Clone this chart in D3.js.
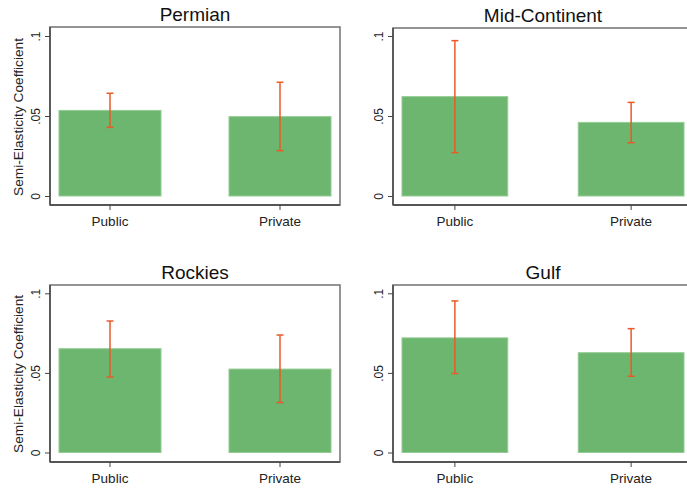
<!DOCTYPE html>
<html>
<head>
<meta charset="utf-8">
<script src="https://cdn.jsdelivr.net/npm/d3@7"></script>
<style>
  html, body { margin: 0; padding: 0; background: #fff; }
  svg { display: block; font-family: "Liberation Sans", Arial, sans-serif; }
</style>
</head>
<body>
<div id="chart"></div>
<script>
// values
const regions = ['Permian', 'Mid-Continent', 'Rockies', 'Gulf'];
const owners = ['Public', 'Private'];
const coef = [
  [0.0535, 0.0496],
  [0.0621, 0.0460],
  [0.0652, 0.0524],
  [0.0720, 0.0627]
];
const ciLow = [
  [0.0429, 0.0283],
  [0.0271, 0.0333],
  [0.0474, 0.0314],
  [0.0496, 0.0479]
];
const ciHigh = [
  [0.0642, 0.0711],
  [0.0971, 0.0585],
  [0.0826, 0.0738],
  [0.0952, 0.0778]
];
const yTicks = [0, 0.05, 0.1];
const yTickLabels = ['0', '.05', '.1'];
const yTitle = 'Semi-Elasticity Coefficient';

const W = 687, H = 491;
const BAR = '#6db66f', BAR_EDGE = '#93cc93', ERR = '#ea5a28';

const svg = d3.select('#chart').append('svg')
  .attr('width', W).attr('height', H);

// panel frames: left, right, top, bottom, y of zero, y of .1
const panels = [
  { l: 50, r: 340, t: 27, b: 205, y0: 196, y1: 36, ytitle: true },
  { l: 393, r: 693, t: 28, b: 205, y0: 196, y1: 36, ytitle: false },
  { l: 50, r: 340, t: 285, b: 462, y0: 452.5, y1: 293.3, ytitle: true },
  { l: 393, r: 693, t: 285, b: 462, y0: 452.5, y1: 293.3, ytitle: false }
];

panels.forEach((p, i) => {
  const g = svg.append('g');
  const x = d3.scaleBand().domain(owners).range([p.l + 9, p.r - 9]).paddingInner(0.4).paddingOuter(0);
  const y = d3.scaleLinear().domain([0, 0.1]).range([p.y0, p.y1]);

  // title
  g.append('text')
    .attr('x', (p.l + p.r) / 2).attr('y', p.t - 6.5)
    .attr('text-anchor', 'middle')
    .style('font-size', '19px').attr('fill', '#111')
    .text(regions[i]);

  // frame
  g.append('rect')
    .attr('x', p.l).attr('y', p.t)
    .attr('width', p.r - p.l).attr('height', p.b - p.t)
    .attr('fill', 'none').attr('stroke', '#7a7a7a').attr('stroke-width', 1.6);

  const rows = owners.map((o, j) => ({ o, v: coef[i][j], lo: ciLow[i][j], hi: ciHigh[i][j] }));

  g.selectAll('rect.bar').data(rows).enter().append('rect')
    .attr('class', 'bar')
    .attr('x', d => x(d.o))
    .attr('width', x.bandwidth())
    .attr('y', d => y(d.v))
    .attr('height', d => y(0) - y(d.v))
    .attr('fill', BAR).attr('stroke', BAR_EDGE).attr('stroke-width', 1);

  const cx = d => x(d.o) + x.bandwidth() / 2;
  const eb = g.selectAll('g.err').data(rows).enter().append('g')
    .attr('stroke', ERR).attr('stroke-width', 1.5);
  eb.append('line').attr('x1', cx).attr('x2', cx).attr('y1', d => y(d.lo)).attr('y2', d => y(d.hi));
  eb.append('line').attr('x1', d => cx(d) - 3.5).attr('x2', d => cx(d) + 3.5).attr('y1', d => y(d.lo)).attr('y2', d => y(d.lo));
  eb.append('line').attr('x1', d => cx(d) - 3.5).attr('x2', d => cx(d) + 3.5).attr('y1', d => y(d.hi)).attr('y2', d => y(d.hi));

  // y axis
  const ya = g.append('g').attr('transform', `translate(${p.l},0)`)
    .call(d3.axisLeft(y).tickValues(yTicks).tickSize(5).tickSizeOuter(0).tickFormat((d, k) => yTickLabels[k]));
  ya.select('.domain').attr('d', `M0,${p.t}V${p.b}`).attr('stroke', '#555').attr('stroke-width', 1.8);
  ya.selectAll('.tick line').attr('stroke', '#444');
  ya.selectAll('.tick text')
    .attr('x', null).attr('dy', null)
    .attr('text-anchor', 'middle')
    .attr('transform', 'translate(-10,0) rotate(-90)')
    .style('font-size', '12px').attr('fill', '#222');

  // x axis
  const xa = g.append('g').attr('transform', `translate(0,${p.b})`)
    .call(d3.axisBottom(x).tickSize(5).tickSizeOuter(0));
  xa.select('.domain').attr('d', `M${p.l},0H${p.r}`).attr('stroke', '#555').attr('stroke-width', 1.8);
  xa.selectAll('.tick line').attr('stroke', '#444');
  xa.selectAll('.tick text').attr('y', 11.5).attr('dy', '0.71em')
    .style('font-size', '13.5px').attr('fill', '#222');

  if (p.ytitle) {
    g.append('text')
      .attr('transform', `translate(23,${(p.y0 + p.y1) / 2 + 1}) rotate(-90)`)
      .attr('text-anchor', 'middle')
      .style('font-size', '13.7px').attr('fill', '#222')
      .text(yTitle);
  }
});
</script>
</body>
</html>
